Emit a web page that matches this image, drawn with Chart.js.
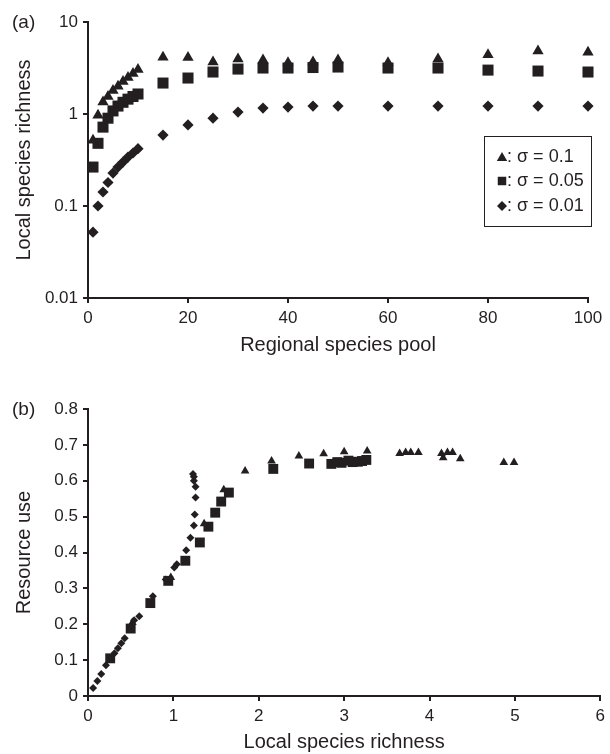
<!DOCTYPE html>
<html>
<head>
<meta charset="utf-8">
<script src="https://cdn.jsdelivr.net/npm/chart.js@4.4.1/dist/chart.umd.min.js"></script>
<style>
  html, body { margin: 0; padding: 0; background: #fff; }
  #wrap { position: relative; width: 610px; height: 754px; }
  canvas { position: absolute; left: 0; }
</style>
</head>
<body>
<div id="wrap">
  <canvas id="chartA" width="610" height="370" style="top:0"></canvas>
  <canvas id="chartB" width="610" height="384" style="top:370px"></canvas>
</div>
<script>
// panel (a): local species richness vs regional species pool
const poolSizes = [1, 2, 3, 4, 5, 6, 7, 8, 9, 10, 15, 20, 25, 30, 35, 40, 45, 50, 60, 70, 80, 90, 100];
const richSigma10 = [0.52, 0.97, 1.35, 1.55, 1.8, 2.0, 2.25, 2.5, 2.75, 3.05, 4.15, 4.1, 3.67, 3.96, 3.86, 3.6, 3.67, 3.86, 3.6, 3.96, 4.4, 4.84, 4.7];
const richSigma05 = [0.265, 0.48, 0.72, 0.9, 1.08, 1.22, 1.34, 1.45, 1.55, 1.65, 2.17, 2.46, 2.86, 3.08, 3.16, 3.16, 3.2, 3.24, 3.16, 3.16, 3.0, 2.93, 2.86];
const richSigma01 = [0.052, 0.10, 0.142, 0.18, 0.228, 0.265, 0.30, 0.34, 0.377, 0.42, 0.59, 0.76, 0.9, 1.05, 1.16, 1.19, 1.22, 1.22, 1.22, 1.22, 1.22, 1.22, 1.22];
const yTicksA = [0.01, 0.1, 1, 10];
const yLabelsA = ['0.01', '0.1', '1', '10'];

// panel (b): resource use vs local species richness
const useRich10 = [0.52, 0.97, 1.36, 1.59, 1.84, 2.15, 2.47, 2.76, 3.0, 3.27, 3.65, 3.72, 3.78, 3.87, 4.14, 4.16, 4.21, 4.27, 4.36, 4.87, 4.99];
const useVal10 = [0.205, 0.33, 0.48, 0.575, 0.627, 0.655, 0.669, 0.675, 0.681, 0.683, 0.676, 0.679, 0.679, 0.679, 0.676, 0.664, 0.679, 0.679, 0.661, 0.651, 0.651];
const useRich05 = [0.26, 0.5, 0.73, 0.94, 1.14, 1.31, 1.41, 1.49, 1.56, 1.65, 2.17, 2.59, 2.85, 2.92, 2.97, 3.05, 3.1, 3.16, 3.21, 3.26];
const useVal05 = [0.105, 0.188, 0.259, 0.321, 0.377, 0.428, 0.472, 0.511, 0.542, 0.567, 0.633, 0.648, 0.647, 0.652, 0.65, 0.656, 0.652, 0.653, 0.655, 0.658];
const useRich01 = [0.06, 0.11, 0.155, 0.21, 0.26, 0.31, 0.35, 0.39, 0.43, 0.54, 0.6, 0.76, 0.91, 1.01, 1.04, 1.15, 1.2, 1.24, 1.25, 1.26, 1.26, 1.24, 1.24, 1.23];
const useVal01 = [0.022, 0.042, 0.061, 0.086, 0.105, 0.119, 0.133, 0.147, 0.161, 0.211, 0.222, 0.278, 0.325, 0.358, 0.367, 0.406, 0.441, 0.475, 0.506, 0.553, 0.583, 0.6, 0.611, 0.619];
const yTicksB = [0, 0.1, 0.2, 0.3, 0.4, 0.5, 0.6, 0.7, 0.8];

const ink = '#231f20';
const family = "'Liberation Sans', Arial, sans-serif";
Chart.defaults.font.family = family;
Chart.defaults.color = ink;

function pairs(xs, ys) {
    return xs.map((x, i) => ({ x: x, y: ys[i] }));
}

function series(label, data, style, radius) {
    return {
        label: label,
        data: data,
        pointStyle: style,
        pointRadius: radius,
        pointHoverRadius: radius,
        pointBackgroundColor: ink,
        pointBorderWidth: 0,
        showLine: false,
        clip: false
    };
}

// axis look shared by both panels: black axis line, short outside ticks, no grid
function axis(extra, tickExtra) {
    return Object.assign({
        border: { display: true, color: ink, width: 2 },
        grid: { display: true, drawOnChartArea: false, drawTicks: true, tickLength: 5, color: ink, lineWidth: 2 },
        ticks: Object.assign({ color: ink, font: { size: 17 }, padding: 5, autoSkip: false, maxRotation: 0 }, tickExtra || {})
    }, extra);
}

function panelLabel(text, x, y) {
    return {
        id: 'panelLabel',
        afterDraw(chart) {
            const ctx = chart.ctx;
            ctx.save();
            ctx.fillStyle = ink;
            ctx.font = '19px ' + family;
            ctx.textBaseline = 'middle';
            ctx.fillText(text, x, y);
            ctx.restore();
        }
    };
}

// boxed legend inside panel (a)
const legendBox = {
    id: 'legendBox',
    afterDraw(chart) {
        const ctx = chart.ctx;
        ctx.save();
        ctx.strokeStyle = ink;
        ctx.lineWidth = 1;
        ctx.strokeRect(484.5, 136.5, 107, 90);
        const rows = [
            ['triangle', 6, ': \u03c3 = 0.1', 157],
            ['rect', 6, ': \u03c3 = 0.05', 181],
            ['rectRot', 5, ': \u03c3 = 0.01', 206]
        ];
        ctx.font = '18px ' + family;
        ctx.textBaseline = 'middle';
        rows.forEach(r => {
            ctx.fillStyle = ink;
            Chart.helpers.drawPoint(ctx, { pointStyle: r[0], radius: r[1], rotation: 0, borderWidth: 0 }, 502, r[3] + (r[0] === 'triangle' ? 1 : 0));
            ctx.fillStyle = ink;
            ctx.fillText(r[2], 507, r[3]);
        });
        ctx.restore();
    }
};

new Chart(document.getElementById('chartA'), {
    type: 'scatter',
    data: {
        datasets: [
            series('\u03c3 = 0.1', pairs(poolSizes, richSigma10), 'triangle', 6.5),
            series('\u03c3 = 0.05', pairs(poolSizes, richSigma05), 'rect', 7.8),
            series('\u03c3 = 0.01', pairs(poolSizes, richSigma01), 'rectRot', 5.6)
        ]
    },
    options: {
        responsive: false,
        animation: false,
        devicePixelRatio: 1,
        layout: { padding: { left: 0, right: 22, top: 22, bottom: 0 } },
        plugins: { legend: { display: false }, tooltip: { enabled: false } },
        scales: {
            x: axis({
                type: 'linear', min: 0, max: 100,
                afterFit: s => { s.height = 72; },
                title: { display: true, text: 'Regional species pool', color: ink, font: { size: 20 }, padding: { top: 0, bottom: 13 } }
            }, { stepSize: 20 }),
            y: axis({
                type: 'logarithmic', min: 0.01, max: 10,
                afterFit: s => { s.width = 88; },
                afterBuildTicks: s => { s.ticks = yTicksA.map(v => ({ value: v })); },
                title: { display: true, text: 'Local species richness', color: ink, font: { size: 20 }, padding: { top: 12, bottom: 0 } }
            }, { callback: (v, i) => yLabelsA[i] })
        }
    },
    plugins: [panelLabel('(a)', 12, 23), legendBox]
});

new Chart(document.getElementById('chartB'), {
    type: 'scatter',
    data: {
        datasets: [
            series('\u03c3 = 0.1', pairs(useRich10, useVal10), 'triangle', 5),
            series('\u03c3 = 0.05', pairs(useRich05, useVal05), 'rect', 7),
            series('\u03c3 = 0.01', pairs(useRich01, useVal01), 'rectRot', 4)
        ]
    },
    options: {
        responsive: false,
        animation: false,
        devicePixelRatio: 1,
        layout: { padding: { left: 0, right: 6, top: 39, bottom: 0 } },
        plugins: { legend: { display: false }, tooltip: { enabled: false } },
        scales: {
            x: axis({
                type: 'linear', min: 0, max: 6,
                afterFit: s => { s.height = 58; },
                title: { display: true, text: 'Local species richness', color: ink, font: { size: 20 }, padding: { top: 0, bottom: 0 } }
            }, { stepSize: 1 }),
            y: axis({
                type: 'linear', min: 0, max: 0.8,
                afterFit: s => { s.width = 88; },
                afterBuildTicks: s => { s.ticks = yTicksB.map(v => ({ value: v })); },
                title: { display: true, text: 'Resource use', color: ink, font: { size: 20 }, padding: { top: 12, bottom: 0 } }
            }, { callback: v => (v === 0 ? '0' : v.toFixed(1)) })
        }
    },
    plugins: [panelLabel('(b)', 12, 40)]
});
</script>
</body>
</html>
